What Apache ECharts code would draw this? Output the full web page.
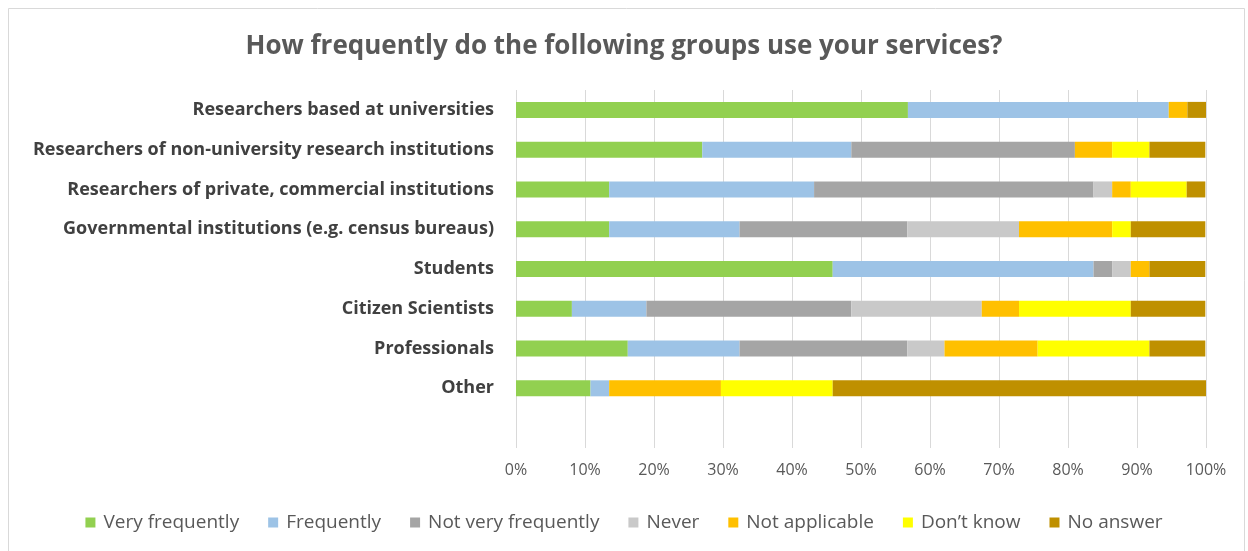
<!DOCTYPE html>
<html>
<head>
<meta charset="utf-8">
<script src="https://cdn.jsdelivr.net/npm/echarts@6/dist/echarts.min.js"></script>
<style>
html,body{margin:0;padding:0;background:#fff;}
#c{width:1248px;height:551px;}
</style>
</head>
<body>
<div id="c"></div>
<script>
const categories = [
  "Researchers based at universities",
  "Researchers of non-university research institutions",
  "Researchers of private, commercial institutions",
  "Governmental institutions (e.g. census bureaus)",
  "Students",
  "Citizen Scientists",
  "Professionals",
  "Other",
  ""
];
const seriesNames = ["Very frequently","Frequently","Not very frequently","Never","Not applicable","Don\u2019t know","No answer"];
const veryFrequently    = [56.8, 27.0, 13.5, 13.5, 45.9,  8.1, 16.2, 10.8, null];
const frequently        = [37.8, 21.6, 29.7, 18.9, 37.8, 10.8, 16.2,  2.7, null];
const notVeryFrequently = [ 0.0, 32.4, 40.5, 24.3,  2.7, 29.7, 24.3,  0.0, null];
const never             = [ 0.0,  0.0,  2.7, 16.2,  2.7, 18.9,  5.4,  0.0, null];
const notApplicable     = [ 2.7,  5.4,  2.7, 13.5,  2.7,  5.4, 13.5, 16.2, null];
const dontKnow          = [ 0.0,  5.4,  8.1,  2.7,  0.0, 16.2, 16.2, 16.2, null];
const noAnswer          = [ 2.7,  8.1,  2.7, 10.8,  8.1, 10.8,  8.1, 54.1, null];
const xTicks = [0,10,20,30,40,50,60,70,80,90,100];

const colors = ["#92D050","#9DC3E6","#A5A5A5","#C9C9C9","#FFC000","#FFFF00","#BF9000"];
const dataSets = [veryFrequently, frequently, notVeryFrequently, never, notApplicable, dontKnow, noAnswer];

const chart = echarts.init(document.getElementById('c'), null, {renderer:'canvas'});
const option = {
  backgroundColor: '#ffffff',
  animation: false,
  color: colors,
  title: {
    text: 'How frequently do the following groups use your services?',
    left: 'center',
    top: 29,
    textStyle: {fontFamily: 'Open Sans', fontSize: 26, fontWeight: 'bold', color: '#595959'}
  },
  graphic: [{
    type: 'rect', left: 6, top: 6, silent: true,
    shape: {width: 1236, height: 560},
    style: {fill: 'none', stroke: '#d9d9d9', lineWidth: 1}
  }],
  legend: {
    bottom: 14,
    left: 'center',
    itemWidth: 10, itemHeight: 10, itemGap: 29,
    icon: 'rect',
    textStyle: {fontFamily: 'Open Sans', fontSize: 19, color: '#595959', padding: [0,0,0,3]},
    data: seriesNames
  },
  grid: {left: 516, right: 42, top: 90, bottom: 103, containLabel: false},
  xAxis: {
    type: 'value', min: 0, max: 100, interval: 10,
    axisLabel: {formatter: v => xTicks.includes(v) ? v + '%' : '', fontFamily: 'Open Sans', fontSize: 16, color: '#595959', margin: 14},
    axisLine: {show: false}, axisTick: {show: false},
    splitLine: {show: true, lineStyle: {color: '#d9d9d9', width: 1}}
  },
  yAxis: {
    type: 'category', data: categories, inverse: true,
    axisLine: {show: false}, axisTick: {show: false},
    axisLabel: {fontFamily: 'Open Sans', fontSize: 18, fontWeight: 'bold', color: '#404040', margin: 22}
  },
  series: seriesNames.map((n, i) => ({
    name: n, type: 'bar', stack: 'total', barWidth: 16,
    data: dataSets[i],
    itemStyle: {color: colors[i]}
  }))
};
chart.setOption(option);
</script>
</body>
</html>
